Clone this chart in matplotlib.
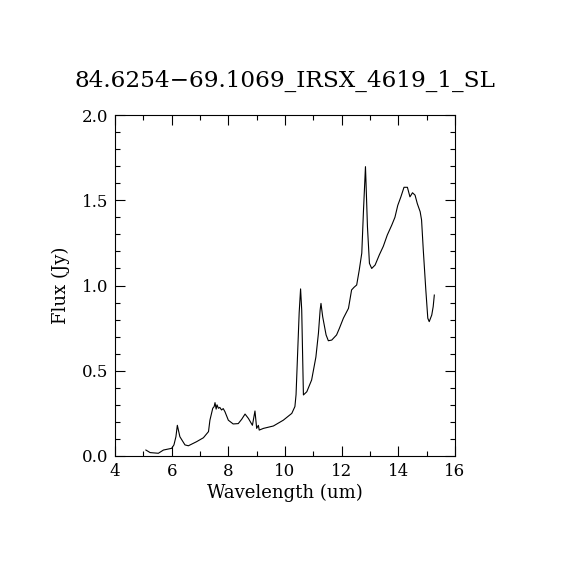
import numpy as np
import matplotlib
matplotlib.use("Agg")
import matplotlib.pyplot as plt
from matplotlib.ticker import MultipleLocator

# spectrum
wave = [5.09, 5.24, 5.53, 5.71, 6.00, 6.08, 6.15, 6.20, 6.29, 6.47, 6.59, 6.88,
        7.12, 7.30, 7.35, 7.45, 7.50, 7.53, 7.57, 7.60, 7.65, 7.70, 7.76, 7.82,
        7.88, 8.00, 8.17, 8.35, 8.47, 8.59, 8.71, 8.85, 8.94, 9.00, 9.06, 9.09,
        9.24, 9.59, 9.94, 10.24, 10.35, 10.39, 10.50, 10.55, 10.59, 10.65, 10.77,
        10.94, 11.09, 11.18, 11.24, 11.27, 11.33, 11.45, 11.53, 11.65, 11.82,
        11.92, 12.06, 12.24, 12.35, 12.44, 12.53, 12.62, 12.71, 12.77, 12.84,
        12.86, 12.91, 12.98, 13.06, 13.18, 13.33, 13.47, 13.61, 13.77, 13.88,
        13.98, 14.09, 14.20, 14.32, 14.41, 14.50, 14.59, 14.67, 14.77, 14.82,
        14.88, 14.97, 15.04, 15.09, 15.18, 15.23, 15.27]
flux = [0.035, 0.020, 0.016, 0.035, 0.045, 0.065, 0.113, 0.180, 0.113, 0.065,
        0.060, 0.084, 0.107, 0.143, 0.210, 0.280, 0.290, 0.313, 0.275, 0.300,
        0.280, 0.285, 0.270, 0.278, 0.260, 0.210, 0.188, 0.190, 0.215, 0.246,
        0.220, 0.180, 0.264, 0.162, 0.180, 0.152, 0.162, 0.176, 0.210, 0.250,
        0.290, 0.360, 0.840, 0.980, 0.856, 0.358, 0.377, 0.446, 0.580, 0.720,
        0.856, 0.895, 0.817, 0.710, 0.676, 0.680, 0.710, 0.749, 0.808, 0.866,
        0.974, 0.990, 1.003, 1.090, 1.190, 1.440, 1.697, 1.600, 1.345, 1.130,
        1.100, 1.120, 1.180, 1.230, 1.296, 1.355, 1.400, 1.470, 1.520, 1.576,
        1.576, 1.520, 1.544, 1.530, 1.480, 1.433, 1.384, 1.210, 0.974, 0.808,
        0.788, 0.827, 0.876, 0.944]

title = "84.6254\u221269.1069_IRSX_4619_1_SL"

plt.rcParams['font.family'] = ['DejaVu Serif']

fig = plt.figure(figsize=(5.7, 5.7), dpi=100)
ax = fig.add_axes([115/570, 114/570, 340/570, 341/570])
ax.plot(wave, flux, color='black', lw=0.8)

ax.set_xlim(4, 16)
ax.set_ylim(0, 2.0)
ax.xaxis.set_major_locator(MultipleLocator(2))
ax.xaxis.set_minor_locator(MultipleLocator(1))
ax.yaxis.set_major_locator(MultipleLocator(0.5))
ax.yaxis.set_minor_locator(MultipleLocator(0.1))
ax.yaxis.set_major_formatter(matplotlib.ticker.FormatStrFormatter('%.1f'))
ax.tick_params(which='both', direction='in', top=True, right=True, width=0.8)
ax.tick_params(which='major', length=7, labelsize=12, pad=5)
ax.tick_params(which='minor', length=3.5)
for s in ax.spines.values():
    s.set_linewidth(0.8)

ax.set_xlabel('Wavelength (um)', fontsize=13, labelpad=3)
ax.set_ylabel('Flux (Jy)', fontsize=13, labelpad=8)
ax.set_title(title, fontsize=16.7, pad=20)

fig.savefig('out.png', dpi=100)
